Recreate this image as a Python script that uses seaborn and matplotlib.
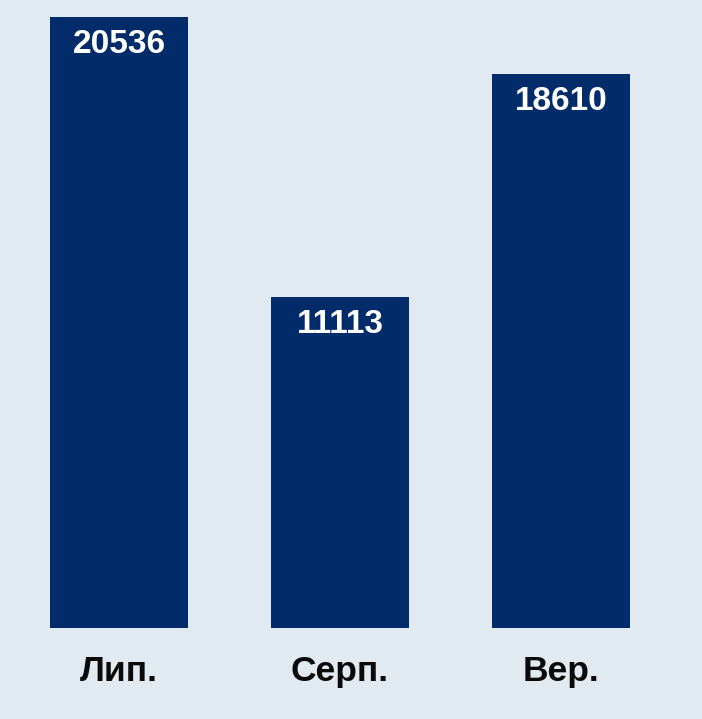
import matplotlib
matplotlib.use('Agg')
import matplotlib.pyplot as plt
import seaborn as sns
import pandas as pd

months = ['Лип.', 'Серп.', 'Вер.']
values = [20536, 11113, 18610]

bg = '#e1e9f1'
bar_color = '#012c69'

sns.set_theme(style='white')
plt.rcParams['font.family'] = ['Liberation Sans', 'DejaVu Sans']

df = pd.DataFrame({'month': months, 'value': values})

W, H = 702, 719
fig = plt.figure(figsize=(W / 100, H / 100), dpi=100, facecolor=bg)
left, right = 8.5, 671.5
top, bottom = 16.7, 627.5
ax = fig.add_axes([left / W, 1 - bottom / H, (right - left) / W, (bottom - top) / H])
ax.set_facecolor(bg)

sns.barplot(data=df, x='month', y='value', color=bar_color, saturation=1,
            width=0.625, linewidth=0, ax=ax)

ax.set_xlim(-0.5, 2.5)
ax.set_ylim(0, max(values))

for i, v in enumerate(values):
    ax.annotate(str(v), xy=(i, v), xytext=(0, -12), textcoords='offset pixels',
                ha='center', va='top', color='white', fontsize=24,
                fontweight='bold')

ax.set_xlabel('')
ax.set_ylabel('')
ax.set_yticks([])
ax.tick_params(axis='x', length=0, pad=20, labelsize=25.5)
for lab in ax.get_xticklabels():
    lab.set_fontweight('bold')
    lab.set_color('#0a0a0a')
for s in ax.spines.values():
    s.set_visible(False)

fig.savefig('out.png', dpi=100, facecolor=bg)
